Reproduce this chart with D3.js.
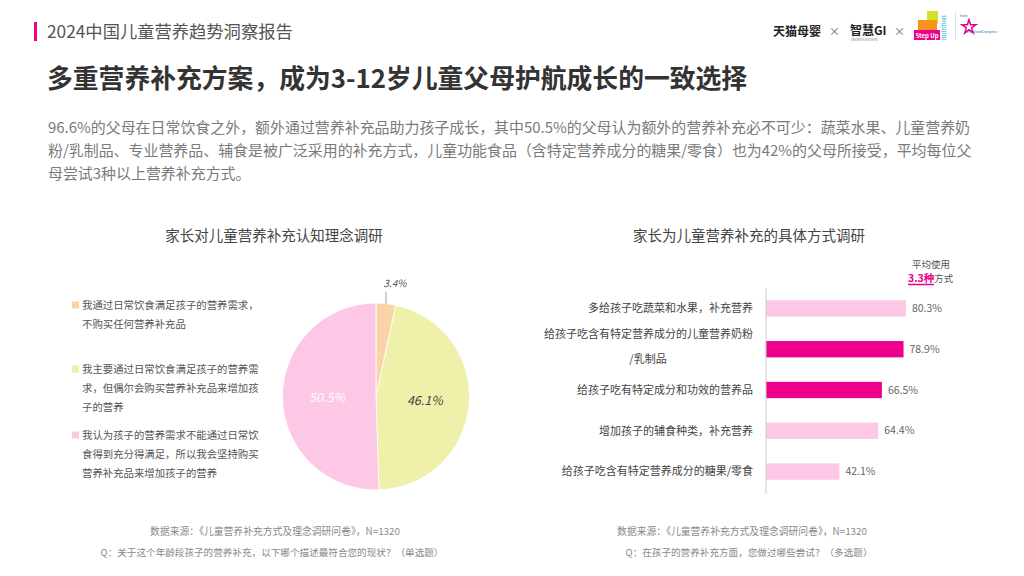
<!DOCTYPE html>
<html><head><meta charset="utf-8">
<script src="https://cdn.jsdelivr.net/npm/d3@7"></script>
<style>
html,body{margin:0;padding:0;background:#fff;}
svg{display:block;font-family:"Noto Sans CJK SC","Noto Sans",sans-serif;}
</style></head>
<body>
<svg id="c" width="1024" height="576"></svg>
<script>
// ---------- data ----------
const reportTitle = "2024中国儿童营养趋势洞察报告";
const mainTitle = "多重营养补充方案，成为3-12岁儿童父母护航成长的一致选择";
const paragraphLines = [
  "96.6%的父母在日常饮食之外，额外通过营养补充品助力孩子成长，其中50.5%的父母认为额外的营养补充必不可少：蔬菜水果、儿童营养奶",
  "粉/乳制品、专业营养品、辅食是被广泛采用的补充方式，儿童功能食品（含特定营养成分的糖果/零食）也为42%的父母所接受，平均每位父",
  "母尝试3种以上营养补充方式。"
];
const pieTitle = "家长对儿童营养补充认知理念调研";
const pieCategories = [
  ["我通过日常饮食满足孩子的营养需求，", "不购买任何营养补充品"],
  ["我主要通过日常饮食满足孩子的营养需", "求，但偶尔会购买营养补充品来增加孩", "子的营养"],
  ["我认为孩子的营养需求不能通过日常饮", "食得到充分得满足，所以我会坚持购买", "营养补充品来增加孩子的营养"]
];
const pieValues = [3.4, 46.1, 50.5];
const barTitle = "家长为儿童营养补充的具体方式调研";
const barCategories = [
  "多给孩子吃蔬菜和水果，补充营养",
  "给孩子吃含有特定营养成分的儿童营养奶粉\n/乳制品",
  "给孩子吃有特定成分和功效的营养品",
  "增加孩子的辅食种类，补充营养",
  "给孩子吃含有特定营养成分的糖果/零食"
];
const barValues = [80.3, 78.9, 66.5, 64.4, 42.1];
const avgNote = ["平均使用", "3.3种", "方式"];
const sourceText = "数据来源：《儿童营养补充方式及理念调研问卷》，N=1320";
const pieQuestion = "Q：关于这个年龄段孩子的营养补充，以下哪个描述最符合您的现状？（单选题）";
const barQuestion = "Q：在孩子的营养补充方面，您做过哪些尝试？（多选题）";

// ---------- drawing ----------
const svg = d3.select("#c");
const PINK = "#ec008c";

// header
svg.append("rect").attr("x",34).attr("y",22).attr("width",3).attr("height",19).attr("fill",PINK);
svg.append("text").attr("x",47).attr("y",38).attr("font-size",17.3).attr("fill","#555").text(reportTitle);

// logos (approximation)
const lg = svg.append("g");
lg.append("text").attr("x",773).attr("y",36).attr("font-size",12).attr("font-weight","bold").attr("fill","#222").text("天猫母婴");
lg.append("text").attr("x",829).attr("y",36).attr("font-size",11).attr("fill","#666").text("×");
lg.append("text").attr("x",850).attr("y",35).attr("font-size",12).attr("font-weight","bold").attr("fill","#222").text("智慧GI");
lg.append("text").attr("x",851).attr("y",41).attr("font-size",3).attr("fill","#777").text("GROWTH INSIGHTS");
lg.append("text").attr("x",894).attr("y",36).attr("font-size",11).attr("fill","#666").text("×");
lg.append("rect").attr("x",927).attr("y",11).attr("width",11).attr("height",13).attr("fill","#d4e02a");
lg.append("rect").attr("x",918).attr("y",20).attr("width",19).attr("height",16).attr("fill","#f7941d");
lg.append("rect").attr("x",914).attr("y",30).attr("width",26).attr("height",10).attr("fill",PINK);
lg.append("text").attr("x",927).attr("y",38).attr("text-anchor","middle").attr("font-size",6).attr("font-weight","bold").attr("fill","#fff").text("Step Up");
lg.append("text").attr("transform","translate(946,40) rotate(-90)").attr("font-size",6).attr("fill","#29abe2").text("nutrition");
lg.append("line").attr("x1",955.5).attr("x2",955.5).attr("y1",12).attr("y2",40).attr("stroke","#cde").attr("stroke-width",0.8);
lg.append("text").attr("x",960).attr("y",17).attr("font-size",3.5).attr("fill","#369").text("from");
const star = d3.symbol().type(d3.symbolStar).size(60);
lg.append("path").attr("d",star()).attr("transform","translate(969,27)").attr("fill","none").attr("stroke",PINK).attr("stroke-width",1.5);
lg.append("text").attr("x",967).attr("y",33).attr("font-size",3.5).attr("fill","#1b75bb").text("FrieslandCampina");

// title and paragraph
svg.append("text").attr("x",47).attr("y",88).attr("font-size",25.8).attr("font-weight","bold").attr("fill","#333").text(mainTitle);
svg.append("g").selectAll("text").data(paragraphLines).join("text")
  .attr("x",48).attr("y",(d,i)=>133+i*23).attr("font-size",14.95).attr("fill","#7a7a7a").text(d=>d);

// ---------- pie chart ----------
svg.append("text").attr("x",274).attr("y",241).attr("text-anchor","middle").attr("font-size",14.5).attr("fill","#444").text(pieTitle);

const pieColors = d3.scaleOrdinal().domain(d3.range(pieValues.length)).range(["#fad3a6","#eff0a9","#fdc7e6"]);
const pie = d3.pie().sort(null).value(d=>d);
const arcs = pie(pieValues);
const R = 93.5;
const arc = d3.arc().innerRadius(0).outerRadius(R);
const labelArc = d3.arc().innerRadius(49).outerRadius(49);
const pg = svg.append("g").attr("transform","translate(376,396.5)");
pg.selectAll("path").data(arcs).join("path").attr("d",arc).attr("fill",(d,i)=>pieColors(i)).attr("stroke","#fff").attr("stroke-width",0.8);
arcs.forEach((a,i)=>{
  const txt = a.data.toFixed(1)+"%";
  if (i===0) {
    const mid = (a.startAngle+a.endAngle)/2;
    const x0 = Math.sin(mid)*R, y0 = -Math.cos(mid)*R;
    pg.append("line").attr("x1",x0).attr("x2",x0).attr("y1",y0).attr("y2",y0-12).attr("stroke","#888").attr("stroke-width",0.8);
    pg.append("text").attr("x",x0+9).attr("y",y0-17).attr("text-anchor","middle").attr("font-size",10).attr("font-style","italic").attr("fill","#555").text(txt);
  } else {
    const c = labelArc.centroid(a);
    pg.append("text").attr("x",c[0]).attr("y",c[1]).attr("dy","0.35em").attr("text-anchor","middle")
      .attr("font-size",12.5).attr("font-style","italic").attr("fill", i===2?"#fff":"#444").text(txt);
  }
});

// legend
const legendY = [305, 369, 435];
const lgd = svg.append("g");
pieCategories.forEach((lines,i)=>{
  lgd.append("rect").attr("x",72).attr("y",legendY[i]-3.5).attr("width",7).attr("height",7).attr("fill",pieColors(i));
  lines.forEach((t,j)=>{
    lgd.append("text").attr("x",82).attr("y",legendY[i]+j*19).attr("dy","0.35em").attr("font-size",10.4).attr("fill","#555").text(t);
  });
});

// ---------- bar chart ----------
svg.append("text").attr("x",749).attr("y",241).attr("text-anchor","middle").attr("font-size",14.5).attr("fill","#444").text(barTitle);

const x = d3.scaleLinear().domain([0,100]).range([766,940.3]);
const y = d3.scaleBand().domain(barCategories).range([288,492]).paddingInner(0.6).paddingOuter(0.3);
const highlighted = new Set([barCategories[1], barCategories[2]]);
const bg = svg.append("g");
bg.selectAll("rect").data(barCategories).join("rect")
  .attr("x",x(0)).attr("y",d=>y(d)).attr("height",y.bandwidth())
  .attr("width",(d,i)=>x(barValues[i])-x(0))
  .attr("fill",d=>highlighted.has(d)?PINK:"#fdc7e6");
bg.append("line").attr("x1",x(0)).attr("x2",x(0)).attr("y1",288).attr("y2",494).attr("stroke","#ccc").attr("stroke-width",1);
bg.selectAll("text.v").data(barCategories).join("text").attr("class","v")
  .attr("x",(d,i)=>x(barValues[i])+6).attr("y",d=>y(d)+y.bandwidth()/2).attr("dy","0.35em")
  .attr("font-size",10.5).attr("fill","#666").text((d,i)=>barValues[i].toFixed(1)+"%");
barCategories.forEach(d=>{
  const lines = d.split("\n");
  const cy = y(d)+y.bandwidth()/2;
  if (lines.length===1) {
    bg.append("text").attr("x",753).attr("y",cy).attr("dy","0.35em").attr("text-anchor","end").attr("font-size",11).attr("fill","#444").text(lines[0]);
  } else {
    bg.append("text").attr("x",753).attr("y",cy-15).attr("dy","0.35em").attr("text-anchor","end").attr("font-size",11).attr("fill","#444").text(lines[0]);
    bg.append("text").attr("x",648).attr("y",cy+10).attr("dy","0.35em").attr("text-anchor","middle").attr("font-size",11).attr("fill","#444").text(lines[1]);
  }
});
// average note
svg.append("text").attr("x",931).attr("y",268).attr("text-anchor","middle").attr("font-size",9.5).attr("fill","#555").text(avgNote[0]);
const an = svg.append("text").attr("x",908).attr("y",281.5).attr("font-size",9.5);
an.append("tspan").attr("font-weight","bold").attr("fill",PINK).attr("font-size",10.5).text(avgNote[1]);
an.append("tspan").attr("fill","#555").text(avgNote[2]);
svg.append("line").attr("x1",908).attr("x2",934).attr("y1",284.5).attr("y2",284.5).attr("stroke",PINK).attr("stroke-width",1.5);

// footers
svg.append("text").attr("x",275).attr("y",535).attr("text-anchor","middle").attr("font-size",9.8).attr("fill","#888").text(sourceText);
svg.append("text").attr("x",272).attr("y",556).attr("text-anchor","middle").attr("font-size",9.6).attr("fill","#888").text(pieQuestion);
svg.append("text").attr("x",742).attr("y",535).attr("text-anchor","middle").attr("font-size",9.8).attr("fill","#888").text(sourceText);
svg.append("text").attr("x",749).attr("y",556).attr("text-anchor","middle").attr("font-size",9.6).attr("fill","#888").text(barQuestion);
</script>
</body></html>
